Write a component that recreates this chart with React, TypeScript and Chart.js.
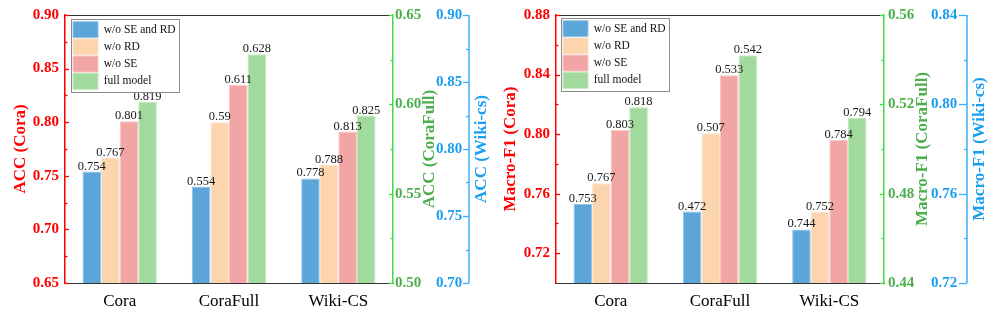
import React, { useEffect, useRef } from 'react';
import { Chart, registerables } from 'chart.js';

Chart.register(...registerables);

const FONT = "'Liberation Serif', 'Times New Roman', serif";

// ---------- data ----------
const categories = ['Cora', 'CoraFull', 'Wiki-CS'];
const seriesNames = ['w/o SE and RD', 'w/o RD', 'w/o SE', 'full model'];

// ACC (left panel): [Cora, CoraFull, Wiki-CS]
const accWoSeRd = [0.754, 0.554, 0.778];
const accWoRd = [0.767, 0.59, 0.788];
const accWoSe = [0.801, 0.611, 0.813];
const accFull = [0.819, 0.628, 0.825];

// Macro-F1 (right panel): [Cora, CoraFull, Wiki-CS]
const f1WoSeRd = [0.753, 0.472, 0.744];
const f1WoRd = [0.767, 0.507, 0.752];
const f1WoSe = [0.803, 0.533, 0.784];
const f1Full = [0.818, 0.542, 0.794];

// axis ranges and tick labels
const accCoraRange = [0.65, 0.9];
const accCoraTicks = [0.65, 0.7, 0.75, 0.8, 0.85, 0.9];
const accCoraFullRange = [0.5, 0.65];
const accCoraFullTicks = [0.5, 0.55, 0.6, 0.65];
const accWikiRange = [0.7, 0.9];
const accWikiTicks = [0.7, 0.75, 0.8, 0.85, 0.9];

const f1CoraRange = [0.7, 0.88];
const f1CoraTicks = [0.72, 0.76, 0.8, 0.84, 0.88];
const f1CoraFullRange = [0.44, 0.56];
const f1CoraFullTicks = [0.44, 0.48, 0.52, 0.56];
const f1WikiRange = [0.72, 0.84];
const f1WikiTicks = [0.72, 0.76, 0.8, 0.84];

// ---------- styles ----------
const barColors = ['#5ba5d9', '#fcd4ad', '#f1a6a5', '#a2d99c'];
const RED = '#ff0000';
const GREEN_LINE = '#3fdc3f';
const GREEN_TEXT = '#4cae4c';
const BLUE_LINE = '#3ab0ff';
const BLUE_TEXT = '#1a9ff0';

const LEGEND_BOX_W = 25;
const LEGEND_BOX_H = 16;
const LEGEND_PAD = 1.2;
const LEGEND_FONT = 11.5;

function vText(ctx: any, text: string, x: number, y: number, color: string) {
  ctx.save();
  ctx.translate(x, y);
  ctx.rotate(-Math.PI / 2);
  ctx.font = `bold 17px ${FONT}`;
  ctx.fillStyle = color;
  ctx.textAlign = 'center';
  ctx.textBaseline = 'middle';
  ctx.fillText(text, 0, 0);
  ctx.restore();
}

function tickMarks(ctx: any, scale: any, x: number, dir: number, majorLen: number, minorLen: number, color: string) {
  const majors = scale.ticks.map((t: any) => t.value);
  ctx.save();
  ctx.strokeStyle = color;
  ctx.lineWidth = 1.3;
  const mark = (v: number, len: number) => {
    const y = Math.round(scale.getPixelForValue(v)) + 0.5;
    ctx.beginPath();
    ctx.moveTo(x, y);
    ctx.lineTo(x + dir * len, y);
    ctx.stroke();
  };
  majors.forEach((v: number) => mark(v, majorLen));
  for (let i = 0; i < majors.length - 1; i++) mark((majors[i] + majors[i + 1]) / 2, minorLen);
  ctx.restore();
}

const decorPlugin: any = {
  id: 'decor',
  afterLayout(chart: any, _args: any, o: any) {
    const lg = chart.legend;
    const ca = chart.chartArea;
    if (!lg || !o.legendShift) return;
    const w = lg.width, h = lg.height;
    lg.left = ca.left + o.legendShift[0];
    lg.top = ca.top + o.legendShift[1];
    lg.right = lg.left + w;
    lg.bottom = ca.bottom;
  },
  afterDatasetsDraw(chart: any) {
    const ctx = chart.ctx;
    ctx.save();
    ctx.font = `12.5px ${FONT}`;
    ctx.fillStyle = '#1a1a1a';
    ctx.textAlign = 'center';
    ctx.textBaseline = 'alphabetic';
    chart.data.datasets.forEach((ds: any, i: number) => {
      const meta = chart.getDatasetMeta(i);
      ds.data.forEach((v: any, j: number) => {
        if (v == null) return;
        const el = meta.data[j];
        ctx.fillText(String(v), el.x, el.y - 2);
      });
    });
    ctx.restore();
  },
  afterDraw(chart: any, _args: any, o: any) {
    const ctx = chart.ctx;
    const ca = chart.chartArea;
    const midY = (ca.top + ca.bottom) / 2;
    ctx.save();
    // top frame line
    ctx.strokeStyle = '#333';
    ctx.lineWidth = 1;
    ctx.beginPath();
    ctx.moveTo(ca.left, Math.round(ca.top) + 0.5);
    ctx.lineTo(ca.right, Math.round(ca.top) + 0.5);
    ctx.stroke();
    ctx.restore();

    // inward ticks for red and green axes
    tickMarks(ctx, chart.scales.yCora, ca.left, 1, 4, 2.5, RED);
    tickMarks(ctx, chart.scales.yFull, ca.right, -1, 4, 2.5, GREEN_LINE);

    // blue axis line + ticks
    const bx = o.blueLineX;
    ctx.save();
    ctx.strokeStyle = BLUE_LINE;
    ctx.lineWidth = 1.5;
    ctx.beginPath();
    ctx.moveTo(bx, ca.top);
    ctx.lineTo(bx, ca.bottom);
    ctx.stroke();
    ctx.restore();
    tickMarks(ctx, chart.scales.yWiki, bx, -1, o.blueMajor, 3, BLUE_LINE);

    // right-side axis titles (reading upward)
    vText(ctx, o.greenTitle, o.greenTitleX, midY, GREEN_TEXT);
    vText(ctx, o.blueTitle, o.blueTitleX, midY, BLUE_TEXT);

    // legend frame
    const lg = chart.legend;
    if (lg && lg.legendItems && lg.legendItems.length) {
      ctx.save();
      ctx.font = `${LEGEND_FONT}px ${FONT}`;
      const tw = Math.max(...lg.legendItems.map((it: any) => ctx.measureText(it.text).width));
      const n = lg.legendItems.length;
      const x0 = lg.left + LEGEND_PAD - 2.5;
      const y0 = lg.top + LEGEND_PAD - 2.5;
      const w = LEGEND_BOX_W + LEGEND_FONT / 2 + tw + 5;
      const h = n * LEGEND_BOX_H + (n - 1) * LEGEND_PAD + 5;
      ctx.strokeStyle = '#8c8c8c';
      ctx.lineWidth = 1;
      ctx.strokeRect(Math.round(x0) + 0.5, Math.round(y0) + 0.5, Math.round(w), Math.round(h));
      ctx.restore();
    }
  },
};

type Panel = {
  series: number[][];
  ranges: number[][];
  ticks: number[][];
  titles: string[];
  geom: any;
};

const accPanel: Panel = {
  series: [accWoSeRd, accWoRd, accWoSe, accFull],
  ranges: [accCoraRange, accCoraFullRange, accWikiRange],
  ticks: [accCoraTicks, accCoraFullTicks, accWikiTicks],
  titles: ['ACC (Cora)', 'ACC (CoraFull)', 'ACC (Wiki-cs)'],
  geom: { redW: 65, greenW: 43, blueW: 54, greenPad: 2, greenTitleX: 430, blueLineX: 469, blueTitleX: 482, blueMajor: 6, legendShift: [6.8, 5.5] },
};

const f1Panel: Panel = {
  series: [f1WoSeRd, f1WoRd, f1WoSe, f1Full],
  ranges: [f1CoraRange, f1CoraFullRange, f1WikiRange],
  ticks: [f1CoraTicks, f1CoraFullTicks, f1WikiTicks],
  titles: ['Macro-F1 (Cora)', 'Macro-F1 (CoraFull)', 'Macro-F1 (Wiki-cs)'],
  geom: { redW: 66, greenW: 47, blueW: 65, greenPad: 4, greenTitleX: 433, blueLineX: 477, blueTitleX: 490, blueMajor: 8, legendShift: [5.8, 4.5] },
};

const AXIS_IDS = ['yCora', 'yFull', 'yWiki'];

function lighten(hex: string, amt: number) {
  const n = parseInt(hex.slice(1), 16);
  const r = (n >> 16) & 255, g = (n >> 8) & 255, b = n & 255;
  const m = (c: number) => Math.round(c + (255 - c) * amt);
  return `rgb(${m(r)},${m(g)},${m(b)})`;
}

function buildConfig(p: Panel): any {
  const datasets: any[] = [];
  categories.forEach((_, c) => {
    p.series.forEach((vals, s) => {
      datasets.push({
        label: seriesNames[s],
        data: categories.map((__, k) => (k === c ? vals[c] : null)),
        yAxisID: AXIS_IDS[c],
        backgroundColor: barColors[s],
        borderColor: lighten(barColors[s], 0.35),
        borderWidth: 1,
        skipNull: true,
        categoryPercentage: 0.68,
        barPercentage: 1.0,
      });
    });
  });

  const g = p.geom;
  const baseY = (idx: number) => ({
    type: 'linear',
    min: p.ranges[idx][0],
    max: p.ranges[idx][1],
    afterBuildTicks: (s: any) => {
      s.ticks = p.ticks[idx].map((v) => ({ value: v }));
    },
    grid: { display: true, drawOnChartArea: false, drawTicks: false },
  });

  return {
    type: 'bar',
    data: { labels: categories, datasets },
    options: {
      responsive: false,
      animation: false,
      events: [],
      layout: { padding: { top: 13, left: 0, right: 0, bottom: 0 } },
      plugins: {
        tooltip: { enabled: false },
        legend: {
          position: 'chartArea',
          align: 'start',
          labels: {
            boxWidth: LEGEND_BOX_W,
            boxHeight: LEGEND_BOX_H,
            padding: LEGEND_PAD,
            color: '#111',
            font: { size: LEGEND_FONT, family: FONT },
            filter: (it: any) => it.datasetIndex < 4,
          },
        },
        decor: {
          greenTitle: p.titles[1],
          blueTitle: p.titles[2],
          greenTitleX: g.greenTitleX,
          blueLineX: g.blueLineX,
          blueTitleX: g.blueTitleX,
          blueMajor: g.blueMajor,
          legendShift: g.legendShift,
        },
      },
      scales: {
        x: {
          type: 'category',
          grid: { display: true, drawOnChartArea: false, drawTicks: false },
          border: { display: true, color: '#333', width: 1 },
          ticks: { color: '#000', font: { size: 17, family: FONT }, padding: 8 },
          afterFit: (s: any) => {
            s.height = 29;
          },
        },
        yCora: {
          ...baseY(0),
          position: 'left',
          weight: 0,
          border: { display: true, color: RED, width: 1.5 },
          ticks: {
            color: RED,
            font: { size: 15, weight: 'bold', family: FONT },
            padding: 6,
            callback: (v: any) => Number(v).toFixed(2),
          },
          title: {
            display: true,
            text: p.titles[0],
            color: RED,
            font: { size: 17, weight: 'bold', family: FONT },
            padding: { top: 10, bottom: 0 },
          },
          afterFit: (s: any) => {
            s.width = g.redW;
          },
        },
        yFull: {
          ...baseY(1),
          position: 'right',
          weight: 0,
          border: { display: true, color: GREEN_LINE, width: 1.5 },
          ticks: {
            color: GREEN_TEXT,
            font: { size: 15, weight: 'bold', family: FONT },
            padding: g.greenPad,
            callback: (v: any) => Number(v).toFixed(2),
          },
          afterFit: (s: any) => {
            s.width = g.greenW;
          },
        },
        yWiki: {
          ...baseY(2),
          position: 'right',
          weight: 1,
          border: { display: false },
          ticks: {
            color: BLUE_TEXT,
            font: { size: 15, weight: 'bold', family: FONT },
            padding: 0,
            callback: (v: any) => Number(v).toFixed(2),
          },
          afterFit: (s: any) => {
            s.width = g.blueW;
          },
        },
      },
    },
    plugins: [decorPlugin],
  };
}

function ChartPanel({ left, width, panel }: { left: number; width: number; panel: Panel }) {
  const ref = useRef<HTMLCanvasElement>(null);
  useEffect(() => {
    const chart = new Chart(ref.current as HTMLCanvasElement, buildConfig(panel));
    return () => chart.destroy();
  }, [panel]);
  return (
    <canvas
      ref={ref}
      width={width}
      height={312}
      style={{ position: 'absolute', left, top: 0, width, height: 312, display: 'block' }}
    />
  );
}

export default function App() {
  useEffect(() => {
    document.body.style.margin = '0';
  }, []);
  return (
    <div style={{ position: 'fixed', left: 0, top: 0, width: 996, height: 312, background: '#fff' }}>
      <ChartPanel left={0} width={490} panel={accPanel} />
      <ChartPanel left={490} width={506} panel={f1Panel} />
    </div>
  );
}
